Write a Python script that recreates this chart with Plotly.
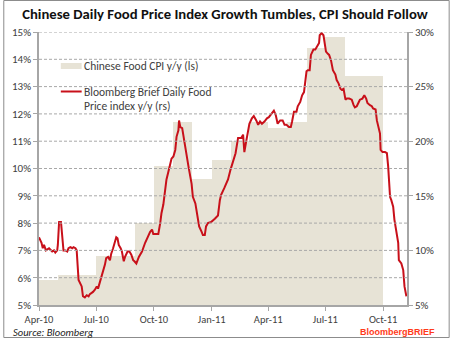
import pandas as pd
import plotly.graph_objects as go

# Monthly Chinese food CPI, y/y % (left scale)
CPI_MONTHS = ["2010-04", "2010-05", "2010-06", "2010-07", "2010-08", "2010-09",
              "2010-10", "2010-11", "2010-12", "2011-01", "2011-02", "2011-03",
              "2011-04", "2011-05", "2011-06", "2011-07", "2011-08", "2011-09"]
CPI_VALUES = [5.9, 6.1, 6.1, 6.8, 6.8, 8.0,
              10.1, 11.7, 9.6, 10.3, 11.0, 11.7,
              11.5, 11.7, 14.4, 14.8, 13.4, 13.4]

# Bloomberg Brief daily food price index, y/y % (right scale)
DAILY_DATES = [
    "2010-04-01", "2010-04-05", "2010-04-07", "2010-04-09", "2010-04-12", "2010-04-17",
    "2010-04-22", "2010-04-25", "2010-04-27", "2010-04-30", "2010-05-01", "2010-05-03",
    "2010-05-06", "2010-05-08", "2010-05-10", "2010-05-13", "2010-05-16", "2010-05-18",
    "2010-05-21", "2010-05-24", "2010-05-26", "2010-05-29", "2010-05-31", "2010-06-03",
    "2010-06-05", "2010-06-08", "2010-06-10", "2010-06-13", "2010-06-16", "2010-06-19",
    "2010-06-21", "2010-06-24", "2010-06-26", "2010-06-29", "2010-07-02", "2010-07-04",
    "2010-07-07", "2010-07-10", "2010-07-12", "2010-07-15", "2010-07-17", "2010-07-20",
    "2010-07-23", "2010-07-25", "2010-07-28", "2010-07-31", "2010-08-02", "2010-08-04",
    "2010-08-06", "2010-08-09", "2010-08-11", "2010-08-14", "2010-08-16", "2010-08-20",
    "2010-08-23", "2010-08-26", "2010-08-29", "2010-08-31", "2010-09-03", "2010-09-07",
    "2010-09-12", "2010-09-17", "2010-09-20", "2010-09-22", "2010-09-25", "2010-09-28",
    "2010-09-30", "2010-10-03", "2010-10-08", "2010-10-11", "2010-10-13", "2010-10-16",
    "2010-10-19", "2010-10-21", "2010-10-24", "2010-10-27", "2010-10-29", "2010-11-01",
    "2010-11-04", "2010-11-06", "2010-11-09", "2010-11-10", "2010-11-12", "2010-11-15",
    "2010-11-18", "2010-11-20", "2010-11-25", "2010-11-30", "2010-12-02", "2010-12-06",
    "2010-12-09", "2010-12-12", "2010-12-16", "2010-12-18", "2010-12-21", "2010-12-23",
    "2010-12-26", "2010-12-31", "2011-01-06", "2011-01-11", "2011-01-14", "2011-01-16",
    "2011-01-21", "2011-01-27", "2011-01-31", "2011-02-04", "2011-02-08", "2011-02-12",
    "2011-02-17", "2011-02-20", "2011-02-22", "2011-02-25", "2011-02-28", "2011-03-02",
    "2011-03-06", "2011-03-09", "2011-03-13", "2011-03-16", "2011-03-19", "2011-03-22",
    "2011-03-26", "2011-03-30", "2011-04-02", "2011-04-05", "2011-04-08", "2011-04-10",
    "2011-04-13", "2011-04-16", "2011-04-20", "2011-04-24", "2011-04-27", "2011-04-30",
    "2011-05-04", "2011-05-07", "2011-05-09", "2011-05-12", "2011-05-16", "2011-05-18",
    "2011-05-22", "2011-05-25", "2011-05-28", "2011-06-01", "2011-06-03", "2011-06-06",
    "2011-06-08", "2011-06-12", "2011-06-15", "2011-06-18", "2011-06-21", "2011-06-22",
    "2011-06-25", "2011-06-28", "2011-06-30", "2011-07-02", "2011-07-05", "2011-07-07",
    "2011-07-10", "2011-07-13", "2011-07-17", "2011-07-19", "2011-07-22", "2011-07-25",
    "2011-07-27", "2011-07-30", "2011-08-02", "2011-08-04", "2011-08-08", "2011-08-12",
    "2011-08-15", "2011-08-17", "2011-08-20", "2011-08-23", "2011-08-25", "2011-08-29",
    "2011-09-01", "2011-09-04", "2011-09-06", "2011-09-10", "2011-09-13", "2011-09-15",
    "2011-09-19", "2011-09-21", "2011-09-23", "2011-09-26", "2011-09-27", "2011-09-30",
    "2011-10-04", "2011-10-07", "2011-10-09", "2011-10-11", "2011-10-12", "2011-10-14",
    "2011-10-17", "2011-10-19", "2011-10-22", "2011-10-25", "2011-10-26", "2011-10-30",
    "2011-11-02", "2011-11-04", "2011-11-07",
]
DAILY_VALUES = [
    11.2, 10.7, 10.2, 10.5, 10.0, 10.2,
    9.9, 10.0, 9.8, 10.0, 10.5, 12.6,
    12.6, 10.8, 10.0, 10.0, 9.9, 10.2,
    10.3, 10.2, 10.3, 10.2, 10.0, 7.3,
    7.0, 6.7, 5.8, 5.7, 5.9, 5.8,
    6.0, 6.1, 6.2, 6.4, 6.7, 6.5,
    7.1, 7.6, 8.2, 8.7, 9.3, 9.4,
    9.1, 9.7, 10.2, 10.8, 11.2, 11.1,
    10.5, 10.2, 9.9, 9.0, 9.4, 9.9,
    9.9, 9.6, 9.1, 9.0, 8.8, 9.4,
    9.9, 10.7, 11.1, 11.3, 11.7, 11.9,
    11.5, 11.5, 11.5, 12.5, 13.4, 14.2,
    15.5, 16.5, 17.2, 17.8, 18.4, 18.6,
    19.2, 20.4, 21.0, 21.9, 21.3, 21.2,
    20.1, 19.2, 17.7, 16.1, 14.9, 14.3,
    13.1, 12.2, 11.7, 11.4, 11.4, 12.2,
    12.5, 12.6, 12.9, 13.2, 14.6, 15.1,
    15.7, 16.5, 17.4, 18.1, 18.9, 20.3,
    20.3, 20.6, 19.0, 20.0, 21.0, 21.6,
    22.1, 22.3, 21.9, 21.5, 21.8, 21.6,
    21.8, 22.1, 22.2, 22.4, 22.7, 22.8,
    22.4, 21.6, 21.9, 21.9, 21.5, 21.5,
    21.3, 21.3, 21.8, 22.7, 22.7, 23.2,
    23.6, 24.2, 24.5, 26.4, 26.5, 26.5,
    27.9, 28.4, 28.4, 28.7, 29.0, 29.7,
    29.9, 29.7, 29.0, 28.2, 28.0, 27.9,
    27.4, 26.5, 26.1, 25.6, 25.3, 24.8,
    24.7, 24.8, 23.8, 23.9, 23.9, 23.8,
    23.3, 23.1, 23.2, 23.6, 23.8, 23.9,
    24.2, 23.9, 23.5, 23.3, 23.2, 23.0,
    22.9, 21.9, 21.3, 20.7, 19.2, 19.0,
    19.0, 18.9, 17.7, 16.1, 14.9, 14.6,
    14.0, 12.8, 11.6, 10.7, 9.1, 8.8,
    8.2, 6.7, 5.8,
]

LEFT_TICKS = [5, 6, 7, 8, 9, 10, 11, 12, 13, 14, 15]
RIGHT_TICKS = [5, 10, 15, 20, 25, 30]
X_RANGE = ["2010-04-01", "2011-11-08"]

TITLE = "Chinese Daily Food Price Index Growth Tumbles, CPI Should Follow"
CPI_NAME = "Chinese Food CPI y/y (ls)"
DAILY_NAME_LINES = ["Bloomberg Brief Daily Food", "Price index y/y (rs)"]
SOURCE = "Source: Bloomberg"
BRAND = "BloombergBRIEF"

FONT = "Calibri, Carlito, Lato, sans-serif"
BEIGE = "#E7E3D6"
RED = "#C8101A"
GRID = "#A8A8A8"
AXIS = "#A6A6A6"
TEXT = "#404040"

W, H = 450, 338
L, R, T, B = 36, 43, 32, 33
PW, PH = W - L - R, H - T - B


def px(x):
    return (x - L) / PW


def py(y):
    return (H - B - y) / PH


# each monthly bar spans its whole calendar month
starts = pd.to_datetime(CPI_MONTHS)
widths = [(s + pd.offsets.MonthBegin(1) - s).total_seconds() * 1000 for s in starts]

fig = go.Figure()
fig.add_trace(go.Bar(
    x=starts, y=CPI_VALUES, width=widths, offset=0,
    marker=dict(color=BEIGE, line=dict(width=0)),
    name=CPI_NAME, yaxis="y", showlegend=False, hoverinfo="skip",
))
fig.add_trace(go.Scatter(
    x=pd.to_datetime(DAILY_DATES), y=DAILY_VALUES, mode="lines",
    line=dict(color=RED, width=2), name=" ".join(DAILY_NAME_LINES),
    yaxis="y2", showlegend=False, hoverinfo="skip",
))

# dashed horizontal grid drawn over the columns
shapes = []
for v in LEFT_TICKS[1:]:
    shapes.append(dict(type="line", xref="paper", yref="y", x0=0, x1=1, y0=v, y1=v,
                       line=dict(color=GRID, width=1, dash="3px,2px"), layer="above"))

# legend swatches
shapes.append(dict(type="rect", xref="paper", yref="paper",
                   x0=px(58), x1=px(79), y0=py(69), y1=py(63),
                   fillcolor=BEIGE, line=dict(width=0), layer="above"))
shapes.append(dict(type="line", xref="paper", yref="paper",
                   x0=px(58), x1=px(79), y0=py(91.5), y1=py(91.5),
                   line=dict(color=RED, width=2), layer="above"))

# thin frame round the whole chart
shapes.append(dict(type="rect", xref="paper", yref="paper",
                   x0=px(0.5), x1=px(W - 0.5), y0=py(H - 0.5), y1=py(0.5),
                   line=dict(color="#8C8C8C", width=1), layer="above"))

legend_font = dict(family=FONT, size=11.5, color=TEXT)
annotations = [
    dict(text=CPI_NAME, x=px(79), y=py(66), xref="paper", yref="paper",
         xanchor="left", yanchor="middle", showarrow=False, font=legend_font),
    dict(text=DAILY_NAME_LINES[0], x=px(79), y=py(92), xref="paper", yref="paper",
         xanchor="left", yanchor="middle", showarrow=False, font=legend_font),
    dict(text=DAILY_NAME_LINES[1], x=px(79), y=py(106), xref="paper", yref="paper",
         xanchor="left", yanchor="middle", showarrow=False, font=legend_font),
    dict(text="<i>" + SOURCE + "</i>", x=px(8), y=py(332.5), xref="paper", yref="paper",
         xanchor="left", yanchor="middle", showarrow=False,
         font=dict(family=FONT, size=10.5, color="#222222")),
    dict(text="<b>" + BRAND + "</b>", x=px(437), y=py(331.5), xref="paper", yref="paper",
         xanchor="right", yanchor="middle", showarrow=False,
         font=dict(family="Liberation Sans Narrow, Arial, sans-serif", size=9, color="#FF3A1A")),
]

fig.update_layout(
    width=W, height=H,
    margin=dict(l=L, r=R, t=T, b=B, pad=0),
    paper_bgcolor="white", plot_bgcolor="white",
    bargap=0,
    title=dict(text="<b>" + TITLE + "</b>", x=0.5, xanchor="center",
               y=1 - 14 / H, yanchor="middle", yref="container",
               font=dict(family=FONT, size=14.7, color="#111111")),
    xaxis=dict(type="date", range=X_RANGE, tick0="2010-04-01", dtick="M3",
               tickformat="%b-%y", showgrid=False, showline=True, linecolor=AXIS,
               linewidth=1.5, ticks="outside", ticklen=4, tickcolor=AXIS,
               tickfont=dict(family=FONT, size=10.5, color=TEXT)),
    yaxis=dict(range=[LEFT_TICKS[0], LEFT_TICKS[-1]], tickvals=LEFT_TICKS,
               ticktext=[f"{v}%" for v in LEFT_TICKS], showgrid=False,
               showline=True, linecolor=AXIS, linewidth=1.5, ticks="outside",
               ticklen=4, tickcolor=AXIS, zeroline=False,
               tickfont=dict(family=FONT, size=11, color=TEXT)),
    yaxis2=dict(range=[RIGHT_TICKS[0], RIGHT_TICKS[-1]], tickvals=RIGHT_TICKS,
                ticktext=[f"{v}%" for v in RIGHT_TICKS], overlaying="y", side="right",
                showgrid=False, showline=True, linecolor=AXIS, linewidth=1.5,
                ticks="outside", ticklen=4, tickcolor=AXIS, zeroline=False,
                tickfont=dict(family=FONT, size=11, color=TEXT)),
    shapes=shapes,
    annotations=annotations,
)

fig.write_html("out.html")
